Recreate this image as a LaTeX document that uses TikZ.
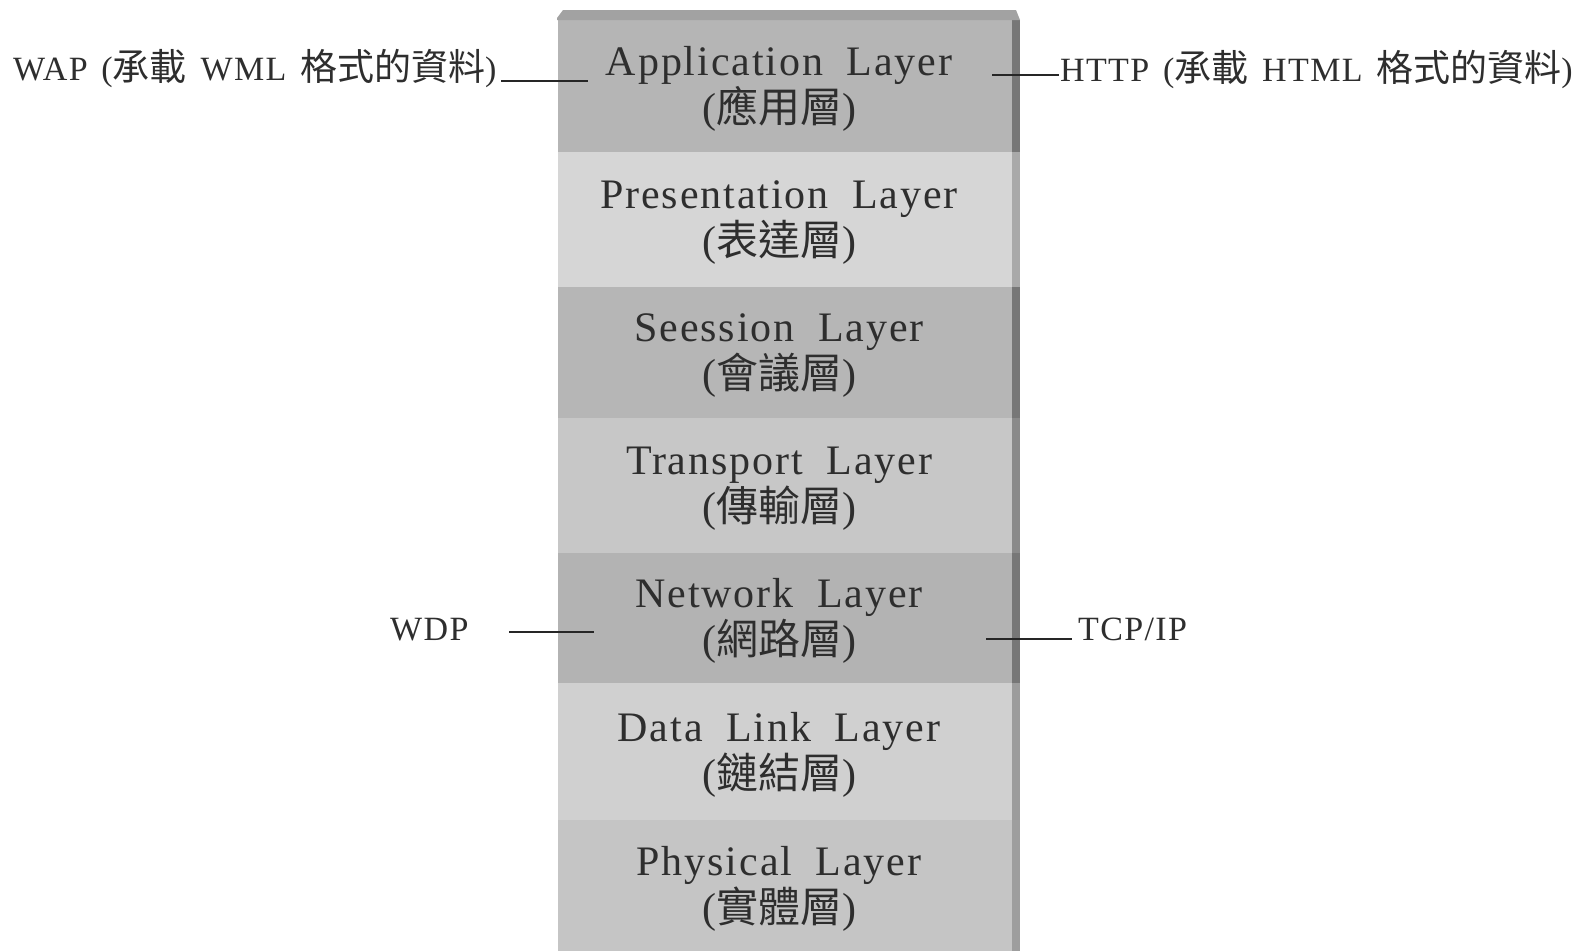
\documentclass[tikz,border=0pt]{standalone}
\usepackage{fontspec}
\setmainfont{Liberation Serif}[LetterSpace=4.5, WordSpace=1.9]
\newfontfamily\sidefont{Liberation Serif}[LetterSpace=4, WordSpace=1.4]
\newfontfamily\cjk{Noto Sans CJK TC}
\usetikzlibrary{calc}

\definecolor{txt}{HTML}{2E2E2E}
\definecolor{topedge}{HTML}{A2A2A2}

\tikzset{
  layer/.style={draw=none, rectangle, inner sep=0pt, minimum width=454pt,
    text=txt, align=center,
    font=\fontsize{42}{47}\selectfont},
  side/.style={inner sep=0pt, text=txt, anchor=base west,
    font=\sidefont\fontsize{34}{40}\selectfont},
  link/.style={draw=black!85, line width=2.2pt},
}
\newcommand{\zh}[1]{{\cjk\fontsize{42}{42}\selectfont #1}}
\newcommand{\zhs}[1]{{\cjk\fontsize{37}{38}\selectfont #1}}

\begin{document}
\begin{tikzpicture}[x=1pt, y=-1pt]
\useasboundingbox (0,0) rectangle (1574,951);

% layer bands: {name/top/bottom/fill/edge/english/chinese}
\foreach \n/\t/\b/\f/\e/\en/\ch in {
  app/20/152/B5B5B5/777777/Application Layer/應用層,
  pres/152/287/D6D6D6/A9A9A9/Presentation Layer/表達層,
  sess/287/418/B6B6B6/777777/Seession Layer/會議層,
  trans/418/553/C7C7C7/8A8A8A/Transport Layer/傳輸層,
  net/553/683/B3B3B3/777777/Network Layer/網路層,
  dl/683/820/D0D0D0/9C9C9C/Data Link Layer/鏈結層,
  phys/820/951/C5C5C5/9E9E9E/Physical Layer/實體層}{
  \definecolor{bandfill}{HTML}{\f}
  \definecolor{bandedge}{HTML}{\e}
  \fill[bandfill] (558,\t) rectangle (1012,\b);
  \fill[bandedge] (1012,\t) rectangle (1020,\b);
  \node[layer, minimum height={\b-\t}] (\n) at (779,{(\t+\b)/2+3})
    {\en\\(\zh{\ch})};
}

% bevelled top edge of the stack
\fill[topedge] (557,18) -- (563,10) -- (1016,10) -- (1020,20) -- (557,20) -- cycle;

% protocol labels
\node[side] (wap) at (13,80) {WAP (\zhs{承載} WML \zhs{格式的資料})};
\node[side] (http) at (1060,81) {HTTP (\zhs{承載} HTML \zhs{格式的資料})};
\node[side] (wdp) at (390,640) {WDP};
\node[side] (tcp) at (1078,640) {TCP/IP};

% connectors into the layers
\coordinate (wapL) at (501,81);
\coordinate (wapR) at (588,81);
\coordinate (httpL) at (992,75);
\coordinate (httpR) at (1059,75);
\coordinate (wdpL) at (509,632);
\coordinate (wdpR) at (594,632);
\coordinate (tcpL) at (986,639);
\coordinate (tcpR) at (1072,639);
\draw[link] (wapL) -- (wapR);
\draw[link] (httpL) -- (httpR);
\draw[link] (wdpL) -- (wdpR);
\draw[link] (tcpL) -- (tcpR);
\end{tikzpicture}
\end{document}
